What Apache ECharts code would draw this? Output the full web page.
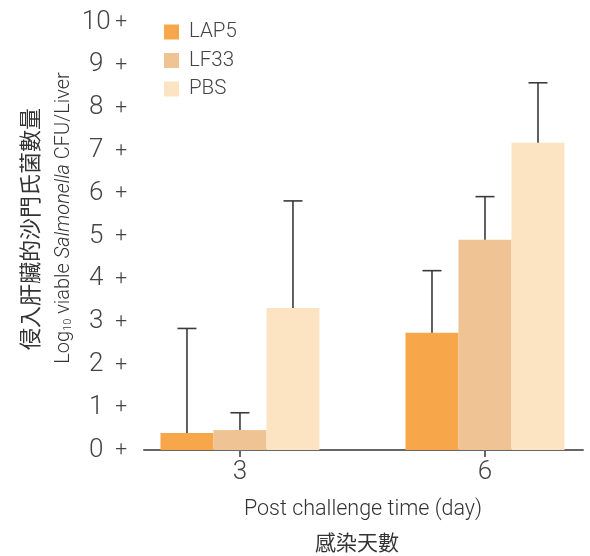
<!DOCTYPE html>
<html><head><meta charset="utf-8">
<script src="https://cdn.jsdelivr.net/npm/echarts@6/dist/echarts.min.js"></script>
<style>html,body{margin:0;padding:0;background:#fff}#c{width:590px;height:556px}</style>
</head><body><div id="c"></div>
<script>
const days = [3, 6];
const seriesNames = ['LAP5', 'LF33', 'PBS'];
const meanLAP5 = [0.40, 2.74];
const meanLF33 = [0.47, 4.91];
const meanPBS = [3.32, 7.18];
const errLAP5 = [2.84, 4.19];
const errLF33 = [0.87, 5.92];
const errPBS = [5.82, 8.58];
const yTicks = [0,1,2,3,4,5,6,7,8,9,10];
const colors = ['#F8A64A', '#F0C394', '#FCE4C3'];
const BW = 53;

const means = [meanLAP5, meanLF33, meanPBS];
const errs = [errLAP5, errLF33, errPBS];

const chart = echarts.init(document.getElementById('c'));
const series = [];
seriesNames.forEach((n, i) => {
  series.push({
    name: n, type: 'bar', barWidth: BW, barGap: '0%',
    itemStyle: {color: colors[i]},
    data: days.map((d, j) => [d, means[i][j]]),
    z: 2
  });
});
seriesNames.forEach((n, i) => {
  series.push({
    name: n + '_err', type: 'custom', z: 3,
    data: days.map((d, j) => [d, means[i][j], errs[i][j]]),
    renderItem: function (params, api) {
      const base = api.coord([api.value(0), api.value(1)]);
      const top = api.coord([api.value(0), api.value(2)]);
      const x = base[0] + (i - 1) * BW;
      const style = {stroke: '#3a3a3a', lineWidth: 1.6};
      return {type: 'group', children: [
        {type: 'line', shape: {x1: x, y1: base[1], x2: x, y2: top[1]}, style: style},
        {type: 'line', shape: {x1: x - 9.5, y1: top[1], x2: x + 9.5, y2: top[1]}, style: style}
      ]};
    }
  });
});

chart.setOption({
  backgroundColor: '#fff',
  animation: false,
  textStyle: {fontFamily: 'Roboto'},
  legend: {
    data: seriesNames, orient: 'vertical', left: 159, top: 16.5,
    itemWidth: 15, itemHeight: 15, itemGap: 7.5, icon: 'rect',
    textStyle: {fontSize: 20.5, lineHeight: 15, color: '#444', fontFamily: 'Roboto', fontWeight: 300, padding: [0,0,0,5]}
  },
  grid: {left: 144, right: 7, top: 22, bottom: 106},
  xAxis: {
    type: 'value', min: 1.825, max: 7.2,
    axisLine: {show: true, lineStyle: {color: '#666', width: 2}},
    axisTick: {show: true, customValues: days, length: 7, lineStyle: {color: '#666', width: 2}},
    axisLabel: {customValues: days, fontSize: 26, color: '#444', fontWeight: 300, margin: 9},
    splitLine: {show: false}
  },
  yAxis: {
    type: 'value', min: 0, max: 10, interval: 1,
    axisLine: {show: false}, axisTick: {show: false}, splitLine: {show: false},
    axisLabel: {
      margin: 17,
      customValues: yTicks,
      formatter: v => '{n|' + v + '}{p|+}',
      rich: {
        n: {fontSize: 26, color: '#444', fontWeight: 300, fontFamily: 'Roboto', width: 32, align: 'center', padding: [0, 3, 0, 0]},
        p: {fontSize: 21, color: '#444', fontWeight: 300, fontFamily: 'Roboto'}
      }
    }
  },
  graphic: [
    {type: 'text', x: 30, y: 229, rotation: Math.PI / 2,
     style: {text: '侵入肝臟的沙門氏菌數量', fontSize: 22, fill: '#333', fontFamily: 'Noto Sans CJK TC',
             align: 'center', verticalAlign: 'middle'}},
    {type: 'text', x: 62, y: 218, rotation: Math.PI / 2,
     style: {text: '{a|Log}{s|10}{a| viable }{i|Salmonella}{a| CFU/Liver}',
             align: 'center', verticalAlign: 'middle',
             rich: {
               a: {fontSize: 20, fill: '#333', fontFamily: 'Roboto', fontWeight: 300, lineHeight: 24, verticalAlign: 'bottom'},
               i: {fontSize: 20, fill: '#333', fontFamily: 'Roboto', fontWeight: 300, fontStyle: 'italic', lineHeight: 24, verticalAlign: 'bottom'},
               s: {fontSize: 11, fill: '#333', fontFamily: 'Roboto', fontWeight: 300, lineHeight: 20, verticalAlign: 'bottom'}
             }}},
    {type: 'text', x: 363, y: 510,
     style: {text: 'Post challenge time (day)', fontSize: 21.5, fill: '#333', fontFamily: 'Roboto', fontWeight: 300,
             align: 'center', verticalAlign: 'middle'}},
    {type: 'text', x: 357, y: 542,
     style: {text: '感染天數', fontSize: 21, fill: '#333', fontFamily: 'Noto Sans CJK TC',
             align: 'center', verticalAlign: 'middle'}}
  ],
  series: series
});
</script></body></html>
